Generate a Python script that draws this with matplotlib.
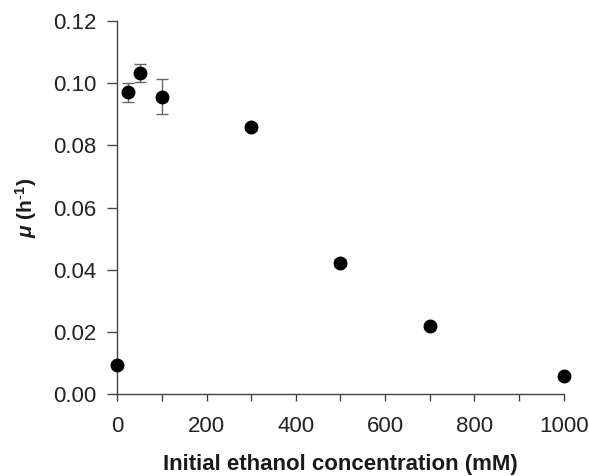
import matplotlib
matplotlib.use("Agg")
import matplotlib.pyplot as plt
from matplotlib.ticker import MultipleLocator

plt.rcParams['font.family'] = ['Liberation Sans', 'DejaVu Sans']
plt.rcParams['mathtext.fontset'] = 'custom'
plt.rcParams['mathtext.rm'] = 'Liberation Sans'
plt.rcParams['mathtext.it'] = 'Liberation Sans:italic'
plt.rcParams['mathtext.bf'] = 'Liberation Sans:bold'
plt.rcParams['mathtext.bfit'] = 'Liberation Sans:bold:italic'

ethanol_mM = [0, 25, 50, 100, 300, 500, 700, 1000]
mu = [0.0095, 0.0970, 0.1033, 0.0957, 0.0860, 0.0423, 0.0220, 0.0058]
mu_err = [0.0, 0.0030, 0.0030, 0.0057, 0.0010, 0.0010, 0.0, 0.0]

fig = plt.figure(figsize=(5.89, 4.76), dpi=100)
ax = fig.add_axes([0.199, 0.172, 0.758, 0.784])

ax.errorbar(ethanol_mM, mu, yerr=mu_err, fmt='o', color='black', ms=9,
            ecolor='#666666', elinewidth=1.0, capsize=4, capthick=1.0,
            clip_on=False, zorder=3)

ax.set_xlim(0, 1000)
ax.set_ylim(0, 0.12)
ax.xaxis.set_major_locator(MultipleLocator(200))
ax.xaxis.set_minor_locator(MultipleLocator(100))
ax.yaxis.set_major_locator(MultipleLocator(0.02))
ax.yaxis.set_major_formatter(matplotlib.ticker.FormatStrFormatter('%.2f'))

for s in ['top', 'right']:
    ax.spines[s].set_visible(False)
for s in ['left', 'bottom']:
    ax.spines[s].set_color('#444444')
    ax.spines[s].set_linewidth(1.0)
ax.tick_params(axis='both', which='both', direction='out', color='#444444',
               labelsize=16, labelcolor='#222222')
ax.tick_params(axis='y', which='major', length=7, width=1.0, pad=8)
ax.tick_params(axis='x', which='major', length=5, width=1.0, pad=11)
ax.tick_params(axis='x', which='minor', length=5, width=1.0)

ax.set_xlabel('Initial ethanol concentration (mM)', fontsize=16, fontweight='bold',
              color='#1a1a1a', labelpad=12)
ax.set_ylabel(r'$\boldsymbol{\mu}$ (h$^{\mathbf{\text{-}1}}$)', fontsize=15, fontweight='bold',
              color='#1a1a1a', labelpad=10)

fig.savefig('out.png', dpi=100)
